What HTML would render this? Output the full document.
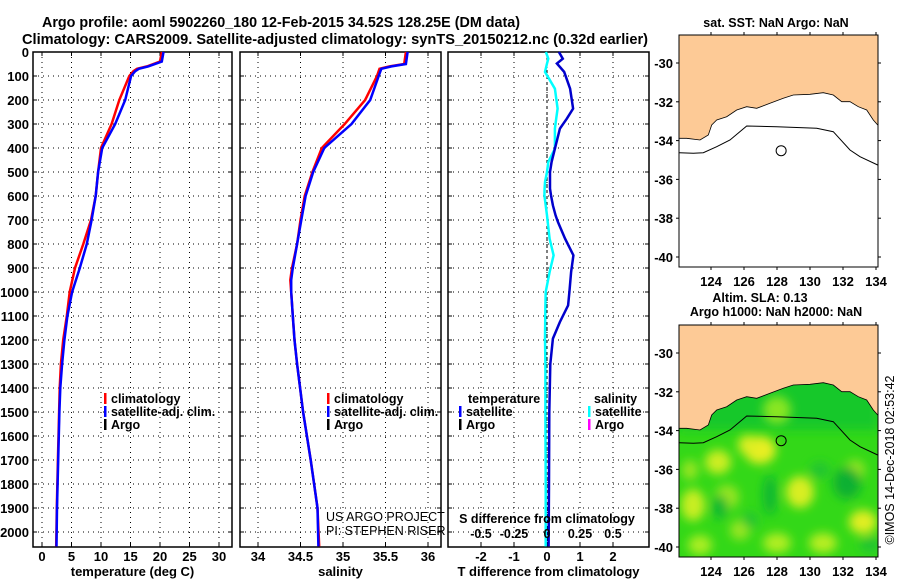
<!DOCTYPE html>
<html><head><meta charset="utf-8"><style>
html,body{margin:0;padding:0;background:#fff;}
svg{display:block;font-family:"Liberation Sans",Arial,sans-serif;}
.b{font-weight:bold;}
</style></head><body>
<svg id="c" width="900" height="580" viewBox="0 0 900 580">
<defs>
<clipPath id="m2clip"><rect x="679" y="325" width="199" height="232"/></clipPath>
<filter id="blur" x="-50%" y="-50%" width="200%" height="200%"><feGaussianBlur stdDeviation="5"/></filter>
</defs>
<text class="b" x="42" y="27" font-size="15" textLength="478" lengthAdjust="spacingAndGlyphs">Argo profile: aoml 5902260_180 12-Feb-2015 34.52S 128.25E (DM data)</text>
<text class="b" x="22" y="44" font-size="15" textLength="626" lengthAdjust="spacingAndGlyphs">Climatology: CARS2009. Satellite-adjusted climatology: synTS_20150212.nc (0.32d earlier)</text>
<g id="plots"></g>
</svg>
<script>
// ---- data ----
const depthT = [0,40,60,70,80,100,200,300,400,500,600,700,800,900,1000,1100,1200,1300,1400,1500,1700,1900,2060];
const tempClim = [20.3,20.0,17.8,16.1,15.5,14.8,13.1,11.8,10.0,9.5,9.1,8.3,7.0,5.6,4.7,4.2,3.6,3.2,3.0,2.9,2.7,2.5,2.4];
const tempSat  = [20.6,20.3,18.0,16.4,15.8,15.1,14.1,12.4,10.2,9.5,9.1,8.4,7.6,6.4,5.1,4.3,3.8,3.4,3.1,2.95,2.75,2.55,2.45];
const depthS = [0,50,60,70,100,200,300,400,500,600,700,800,900,950,1000,1100,1200,1300,1500,1700,1900,2060];
const salClim = [35.74,35.72,35.55,35.43,35.40,35.26,35.02,34.75,34.64,34.55,34.50,34.46,34.40,34.38,34.39,34.41,34.43,34.46,34.53,34.62,34.70,34.72];
const salSat  = [35.76,35.74,35.57,35.45,35.42,35.32,35.10,34.78,34.65,34.56,34.51,34.46,34.41,34.39,34.39,34.41,34.43,34.46,34.53,34.62,34.70,34.71];
const depthD = [0,28,48,83,153,236,278,319,403,458,500,542,569,597,639,681,708,778,847,917,1000,1056,1125,1194,1300,1500,1800,2060];
const tDiff = [0.36,0.48,0.30,0.52,0.70,0.79,0.60,0.39,0.24,0.14,0.09,0.09,0.09,0.12,0.18,0.26,0.33,0.55,0.80,0.73,0.68,0.64,0.39,0.18,0.10,0.07,0.06,0.05];
const sDiff = [-0.008,0.01,0.0,-0.015,0.06,0.08,0.07,0.06,0.06,0.01,0.0,-0.015,-0.018,-0.02,-0.01,0.0,0.005,0.02,0.05,0.02,-0.01,-0.012,-0.014,-0.015,-0.012,-0.012,-0.01,-0.01];
const depthTicks = [0,100,200,300,400,500,600,700,800,900,1000,1100,1200,1300,1400,1500,1600,1700,1800,1900,2000];
const tempTicks = [0,5,10,15,20,25,30];
const salTicks = [34,34.5,35,35.5,36];
const salTickLabels = ["34","34.5","35","35.5","36"];
const tdTicks = [-2,-1,0,1,2];
const sdTicks = [-0.5,-0.25,0,0.25,0.5];
const sdTickLabels = ["-0.5","-0.25","0","0.25","0.5"];
const lonTicks = [124,126,128,130,132,134];
const latTicks = [-30,-32,-34,-36,-38,-40];
const argoPos = [128.25,-34.52];

// ---- scales ----
const yTop=52, yBot=547;
const yD = d => yTop + d*0.24;
const xT = v => 42 + v*5.9;
const xS = v => 258 + (v-34)*85;
const xTd = v => 547 + v*33;
const xSd = v => 547 + v*132;
const mLon = v => 679 + (v-122.06)*16.5;
const mLat1 = v => 63 + (-30 - v)*19.4;
const mLat2 = v => 353 + (-30 - v)*19.4;

const NS="http://www.w3.org/2000/svg";
const G=document.getElementById('plots');
function el(tag,attrs,parent){const e=document.createElementNS(NS,tag);for(const k in attrs)e.setAttribute(k,attrs[k]);(parent||G).appendChild(e);return e;}
function txt(s,x,y,size,anchor,bold,parent){const t=el('text',{x:x,y:y,'font-size':size,'text-anchor':anchor||'start'},parent);if(bold)t.setAttribute('class','b');t.textContent=s;return t;}
function stepPath(xs,ds,xf){let p='';for(let i=0;i<xs.length;i++){const x=xf(xs[i]).toFixed(1),y=yD(ds[i]).toFixed(1);p+=(i?'L':'M')+x+','+y;}return p;}

function panel(name,x0,x1,xticks,xf,xlabels,xtitle,yLabels){
  const g=el('g',{});
  
  
  for(const d of depthTicks){
    const l=el('line',{x1:x0,x2:x1,y1:yD(d),y2:yD(d),stroke:'#000','stroke-width':1,'stroke-dasharray':'1,4'},g);
    
    
    el('line',{x1:x0,x2:x0+4,y1:yD(d),y2:yD(d),stroke:'#000'},g);
    el('line',{x1:x1-4,x2:x1,y1:yD(d),y2:yD(d),stroke:'#000'},g);
    if(yLabels){const t=txt(String(d),29,yD(d)+5,13,'end',true,g);
      
      }
  }
  xticks.forEach((v,i)=>{
    const x=xf(v);
    const l=el('line',{x1:x,x2:x,y1:yTop,y2:yBot,stroke:'#000','stroke-width':1,'stroke-dasharray':'1,4'},g);
    
    
    el('line',{x1:x,x2:x,y1:yBot-4,y2:yBot,stroke:'#000'},g);
    el('line',{x1:x,x2:x,y1:yTop,y2:yTop+4,stroke:'#000'},g);
    const t=txt(xlabels[i],x,561,13,'middle',true,g);
    
    
  });
  const r=el('rect',{x:x0,y:yTop,width:x1-x0,height:yBot-yTop,fill:'none',stroke:'#000','stroke-width':1.5},g);
  
  
  const tt=txt(xtitle,(x0+x1)/2,576,13,'middle',true,g);
  
  
  return g;
}
function series(g,name,vals,ds,xf,color,w){
  const p=el('path',{d:stepPath(vals,ds,xf),fill:'none',stroke:color,'stroke-width':w,'stroke-linejoin':'miter'},g);
  
  
}
function legend(g,x,y,items){
  items.forEach((it,i)=>{
    const yy=y+i*13;
    el('rect',{x:x,y:yy-10,width:2.5,height:11,fill:it[1]},g);
    const t=txt(it[0],x+7,yy,12.5,'start',true,g);
    
    
  });
}

// temperature panel
const g1=panel('temperature-panel',33,232,tempTicks,xT,tempTicks.map(String),'temperature (deg C)',true);
series(g1,'temperature-climatology-line',tempClim,depthT,xT,'#f00',2.5);
series(g1,'temperature-satellite-line',tempSat,depthT,xT,'#00f',2.5);
legend(g1,104,403,[['climatology','#f00'],['satellite-adj. clim.','#00f'],['Argo','#000']]);

// salinity panel
const g2=panel('salinity-panel',240,441,salTicks,xS,salTickLabels,'salinity',false);
series(g2,'salinity-climatology-line',salClim,depthS,xS,'#f00',2.5);
series(g2,'salinity-satellite-line',salSat,depthS,xS,'#00f',2.5);
legend(g2,327,403,[['climatology','#f00'],['satellite-adj. clim.','#00f'],['Argo','#000']]);
const c1=txt('US ARGO PROJECT',326,521,12.5,'start',false,g2);


const c2=txt('PI: STEPHEN RISER',326,535,12.5,'start',false,g2);



// difference panel
const g3=panel('difference-panel',448,649,tdTicks,xTd,tdTicks.map(String),'T difference from climatology',false);
el('line',{x1:xTd(0),x2:xTd(0),y1:yTop,y2:yBot,stroke:'#000','stroke-width':1,'stroke-dasharray':'3,3'},g3);
series(g3,'salinity-difference-line',sDiff,depthD,xSd,'#0ff',2.5);
series(g3,'temperature-difference-line',tDiff,depthD,xTd,'#00c',2.5);
let lt=txt('temperature',468,403,12.5,'start',true,g3);


legend(g3,459,416,[['satellite','#00f'],['Argo','#000']]);
let ls=txt('salinity',594,403,12.5,'start',true,g3);


legend(g3,588,416,[['satellite','#0ff'],['Argo','#f0f']]);
const sdt=txt('S difference from climatology',547,523,12.5,'middle',true,g3);


sdTicks.forEach((v,i)=>{const t=txt(sdTickLabels[i],xSd(v),538,12.5,'middle',true,g3);
  
  });

// ---- maps ----
const coast=[[88,415],[110,415],[150,420],[175,405],[185,375],[200,360],[230,350],[260,330],[290,320],[320,325],[360,310],[400,295],[430,285],[480,283],[520,278],[550,285],[575,305],[600,305],[625,320],[650,330],[670,360],[683,375]];
const contour=[[88,458],[130,460],[160,458],[200,440],[240,420],[290,378],[380,380],[500,385],[550,395],[600,450],[630,470],[683,495]];
function mp(pts,oy){return pts.map(p=>(650+p[0]/3).toFixed(1)+','+(oy+p[1]/3).toFixed(1)).join(' ');}
const blobs=[
 [777,410,14,14,'#88e622'],[760,450,16,14,'#e8ee22'],[748,445,10,10,'#ddee22'],
 [718,462,13,12,'#ccee22'],[693,505,12,16,'#c8ee22'],[727,497,12,12,'#99e622'],
 [800,492,14,16,'#d8ee22'],[863,522,14,12,'#e0ee22'],[823,543,14,10,'#b8ee22'],
 [777,543,14,10,'#b0ee22'],[700,545,12,10,'#aaee22'],[740,530,10,10,'#99e622'],
 [855,470,10,10,'#99e622'],[690,470,8,10,'#99e622'],
 [720,507,8,12,'#11b833'],[770,495,7,20,'#11b833'],[847,483,14,16,'#11b033'],[820,470,10,8,'#22c433'],
 [750,520,8,8,'#22c433'],[870,545,10,8,'#22c433']];
function map(name,oy,latf,green){
  const g=el('g',{});
  
  
  const y0=oy+35,y1=oy+267;
  el('rect',{x:679,y:y0,width:199,height:232,fill:'#fff'},g);
  if(green){
    const h=el('g',{'clip-path':'url(#m2clip)'},g);
    el('rect',{x:679,y:y0,width:199,height:232,fill:'#33d818'},h);
    el('rect',{x:679,y:y0+50,width:199,height:55,fill:'#14c82a',filter:'url(#blur)'},h);
    const f=el('g',{filter:'url(#blur)'},h);
    blobs.forEach(b=>{
      el('ellipse',{cx:b[0],cy:b[1],rx:b[2],ry:b[3],fill:b[4]},f);
    });
  }
  const land=el('polygon',{points:'679,'+y0+' 878,'+y0+' '+mp(coast.slice().reverse(),oy),fill:'#fdca96'},g);
  
  
  el('polyline',{points:mp(coast,oy),fill:'none',stroke:'#000','stroke-width':0.8},g);
  const ct=el('polyline',{points:mp(contour,oy),fill:'none',stroke:'#000','stroke-width':1},g);
  
  
  const ar=el('circle',{cx:mLon(argoPos[0]),cy:latf(argoPos[1]),r:5,fill:'none',stroke:'#000','stroke-width':1},g);
  
  
  el('rect',{x:679,y:y0,width:199,height:232,fill:'none',stroke:'#000','stroke-width':1},g);
  lonTicks.forEach(v=>{const x=mLon(v);
    el('line',{x1:x,x2:x,y1:y0-3,y2:y0,stroke:'#000'},g);
    el('line',{x1:x,x2:x,y1:y1,y2:y1+3,stroke:'#000'},g);
    const t=txt(String(v),x,y1+19,13,'middle',true,g);
    
    });
  latTicks.forEach(v=>{const y=latf(v);
    el('line',{x1:676,x2:679,y1:y,y2:y,stroke:'#000'},g);
    el('line',{x1:878,x2:881,y1:y,y2:y,stroke:'#000'},g);
    const t=txt(String(v),673,y+5,13,'end',true,g);
    
    });
  return g;
}
const mA=map('sst-map',0,mLat1,false);
const t1=txt('sat. SST: NaN Argo: NaN',776,27,12.5,'middle',true,mA);


const mB=map('sla-map',290,mLat2,true);
const t2=txt('Altim. SLA: 0.13',760,302,12.5,'middle',true,mB);


const t3=txt('Argo h1000: NaN h2000: NaN',776,316,12.5,'middle',true,mB);


const cr=txt('\u00A9IMOS 14-Dec-2018 02:53:42',0,0,12.5,'middle',false);
cr.setAttribute('transform','translate(894,460) rotate(-90)');


</script>
</body></html>
